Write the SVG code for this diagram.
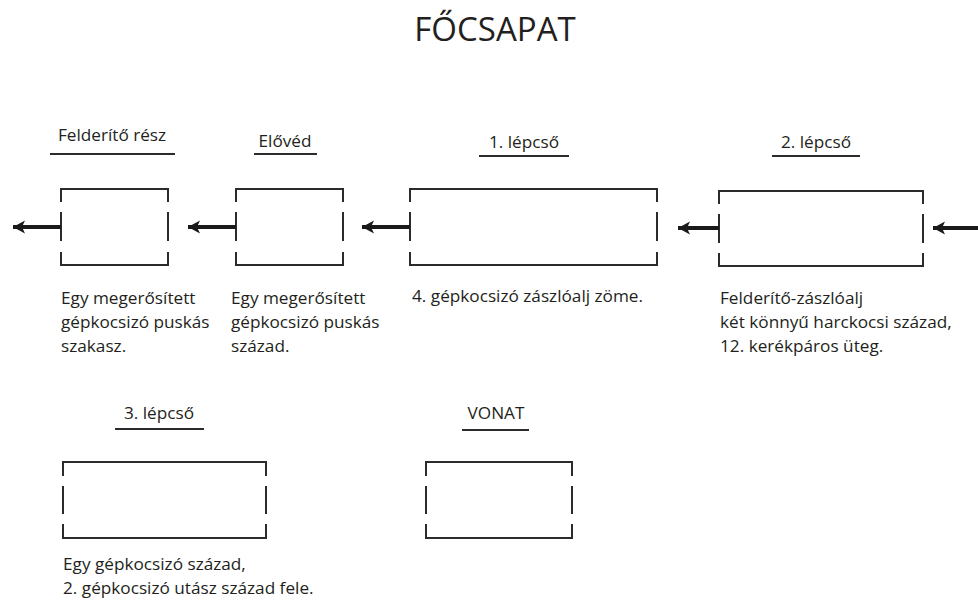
<svg xmlns="http://www.w3.org/2000/svg" width="978" height="604" viewBox="0 0 978 604">
<defs>
<style>
text{font-family:"Open Sans","Noto Sans","Liberation Sans",sans-serif;fill:#231f20}
.t{font-size:17.2px}
.title{font-size:33px}
.box{fill:none;stroke:#2b2b2b;stroke-width:2}
.ul{stroke:#2b2b2b;stroke-width:1.8}
.arr{stroke:#1a1a1a;stroke-width:4.2;fill:none;marker-end:url(#ah)}
</style>
<marker id="ah" markerUnits="userSpaceOnUse" markerWidth="14" markerHeight="14" refX="12" refY="7" orient="auto">
<path d="M0,0.5 L12,7 L0,13.5 L3,7 Z" fill="#1a1a1a"/>
</marker>
</defs>
<rect width="978" height="604" fill="#fff"/>
<text class="title" x="495" y="41" text-anchor="middle">FŐCSAPAT</text>

<g id="felderito">
<text class="t" x="112" y="141" text-anchor="middle">Felderítő rész</text>
<line class="ul" x1="50" y1="154" x2="175" y2="154"/>
<path class="box" d="M61,202V189H168V202M61,212V241M168,212V241M61,252V265H168V252"/>
<text class="t" x="61" y="304">Egy megerősített</text>
<text class="t" x="61" y="328">gépkocsizó puskás</text>
<text class="t" x="61" y="352">szakasz.</text>
</g>

<g id="elovéd">
<text class="t" x="285" y="147" text-anchor="middle">Elővéd</text>
<line class="ul" x1="254" y1="154" x2="317" y2="154"/>
<path class="box" d="M236,202V189H343V202M236,212V241M343,212V241M236,252V265H343V252"/>
<text class="t" x="231" y="304">Egy megerősített</text>
<text class="t" x="231" y="328">gépkocsizó puskás</text>
<text class="t" x="231" y="352">század.</text>
</g>

<g id="lepcso1">
<text class="t" x="524" y="148" text-anchor="middle">1. lépcső</text>
<line class="ul" x1="479" y1="156" x2="569" y2="156"/>
<path class="box" d="M410,202V189H657V202M410,212V241M657,212V241M410,252V265H657V252"/>
<text class="t" x="412" y="302">4. gépkocsizó zászlóalj zöme.</text>
</g>

<g id="lepcso2">
<text class="t" x="816" y="148" text-anchor="middle">2. lépcső</text>
<line class="ul" x1="772" y1="156" x2="860" y2="156"/>
<path class="box" d="M719,204V191H923V204M719,214V243M923,214V243M719,253V266H923V253"/>
<text class="t" x="720" y="304">Felderítő-zászlóalj</text>
<text class="t" x="720" y="328">két könnyű harckocsi század,</text>
<text class="t" x="720" y="352">12. kerékpáros üteg.</text>
</g>

<g id="lepcso3">
<text class="t" x="159" y="419" text-anchor="middle">3. lépcső</text>
<line class="ul" x1="115" y1="429" x2="204" y2="429"/>
<path class="box" d="M63,476V462H266V476M63,486V514M266,486V514M63,524V538H266V524"/>
<text class="t" x="63" y="570">Egy gépkocsizó század,</text>
<text class="t" x="63" y="594">2. gépkocsizó utász század fele.</text>
</g>

<g id="vonat">
<text class="t" x="496" y="419" text-anchor="middle">VONAT</text>
<line class="ul" x1="462" y1="430" x2="529" y2="430"/>
<path class="box" d="M426,476V462H572V476M426,486V514M572,486V514M426,524V538H572V524"/>
</g>

<g id="connectors">
<line class="arr" x1="61" y1="227" x2="13" y2="227"/>
<line class="arr" x1="236" y1="227" x2="188" y2="227"/>
<line class="arr" x1="410" y1="227" x2="362" y2="227"/>
<line class="arr" x1="719" y1="228" x2="678" y2="228"/>
<line class="arr" x1="978" y1="228" x2="933" y2="228"/>
</g>
</svg>
